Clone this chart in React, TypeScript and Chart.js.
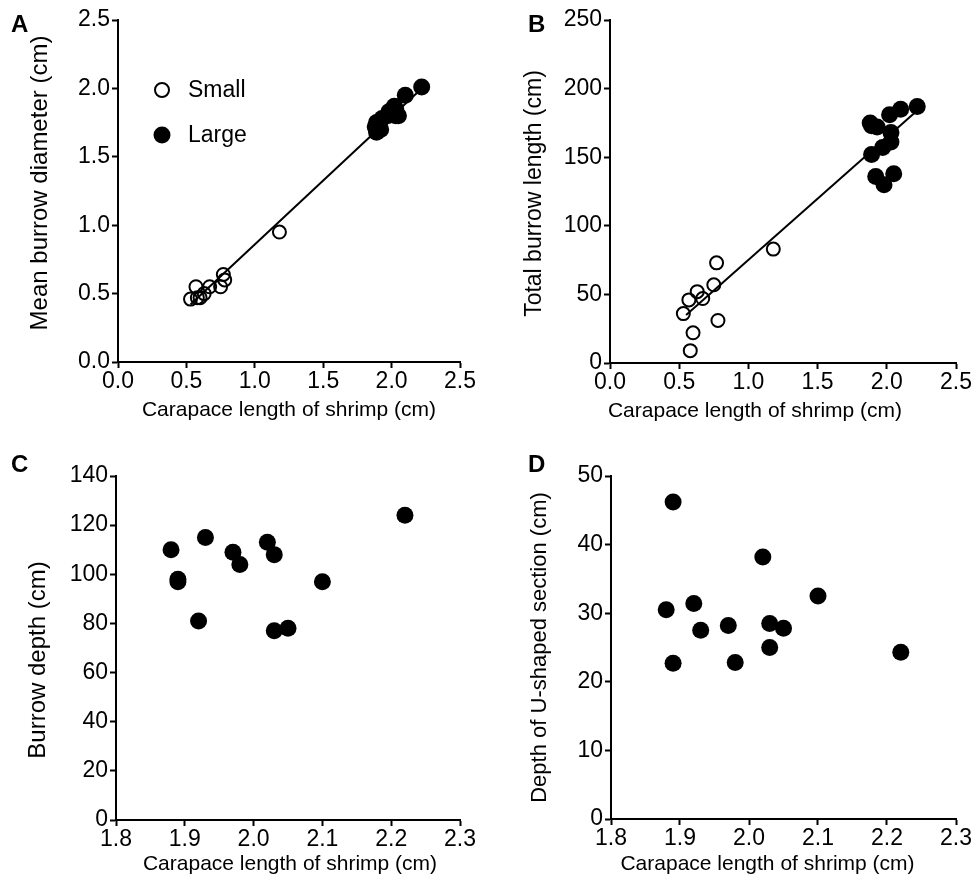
import React, { useEffect, useRef } from 'react';
import { Chart, registerables } from 'chart.js';

Chart.register(...registerables);

const FONT = "'Liberation Sans', Arial, Helvetica, sans-serif";

// ---- Data ----
const legendLabels = ['Small', 'Large'];

const smallCarapace = [0.53, 0.57, 0.58, 0.6, 0.63, 0.67, 0.75, 0.77, 0.78, 1.18];
const smallDiameter = [0.46, 0.55, 0.47, 0.47, 0.5, 0.55, 0.55, 0.64, 0.6, 0.95];
const smallLength = [36, 46, 9, 22, 52, 47, 57, 73, 31, 83];

const largeCarapace = [1.88, 1.89, 1.89, 1.92, 1.93, 1.97, 1.98, 2.02, 2.03, 2.03, 2.05, 2.1, 2.22];
const largeDiameter = [1.72, 1.68, 1.75, 1.7, 1.78, 1.8, 1.83, 1.87, 1.8, 1.85, 1.8, 1.95, 2.01];
const largeLength = [175, 152, 173, 136, 172, 157, 130, 181, 168, 161, 138, 185, 187];
const largeDepth = [110, 97, 98, 81, 115, 109, 104, 113, 108, 77, 78, 97, 124];
const largeUDepth = [30.5, 46.2, 22.7, 31.4, 27.5, 28.2, 22.8, 38.2, 28.5, 25.0, 27.8, 32.5, 24.3];

const fitA_x = [0.53, 2.22];
const fitA_y = [0.42, 2.0];
const fitB_x = [0.55, 2.22];
const fitB_y = [35, 184];

const xTitle = 'Carapace length of shrimp (cm)';
const yTitles = ['Mean burrow diameter (cm)', 'Total burrow length (cm)', 'Burrow depth (cm)', 'Depth of U-shaped section (cm)'];

const pts = (xs: number[], ys: number[]) => xs.map((x, i) => ({ x, y: ys[i] }));

const openStyle = {
  pointRadius: 6.5,
  pointBorderWidth: 2,
  pointBorderColor: '#000',
  pointBackgroundColor: 'rgba(0,0,0,0)',
  showLine: false,
  clip: false as any,
  order: 1,
};
const filledStyle = {
  pointRadius: 8.5,
  pointBorderWidth: 0,
  pointBorderColor: '#000',
  pointBackgroundColor: '#000',
  showLine: false,
  clip: false as any,
  order: 0,
};
const lineStyle = {
  showLine: true,
  borderColor: '#000',
  borderWidth: 2,
  pointRadius: 0,
  clip: false as any,
  order: 2,
};

type Geo = {
  yW: number;
  xH: number;
  padTop: number;
  padRight: number;
  xSize: number;
  xDx: number;
  xOff: number;
  ySize: number;
  yX: number;
  yDy: number;
  yTitle: string;
};

function makeScales(g: Geo, xr: [number, number, number], yr: [number, number, number], yDecimals: number) {
  const tickFont = { family: FONT, size: 23 };
  const grid = {
    display: true,
    drawOnChartArea: false,
    drawTicks: true,
    tickLength: 6,
    tickWidth: 2,
    tickColor: '#000',
  };
  return {
    x: {
      type: 'linear',
      min: xr[0],
      max: xr[1],
      ticks: {
        stepSize: xr[2],
        autoSkip: false,
        maxRotation: 0,
        color: '#000',
        font: tickFont,
        padding: 0,
        callback: (v: any) => Number(v).toFixed(1),
      },
      grid,
      border: { display: true, color: '#000', width: 2 },
      title: { display: false, text: xTitle },
      afterFit: (s: any) => {
        s.height = g.xH;
      },
    },
    y: {
      type: 'linear',
      min: yr[0],
      max: yr[1],
      ticks: {
        stepSize: yr[2],
        autoSkip: false,
        color: '#000',
        font: tickFont,
        padding: 2,
        callback: (v: any) => Number(v).toFixed(yDecimals),
      },
      grid,
      border: { display: true, color: '#000', width: 2 },
      title: { display: false, text: g.yTitle },
      afterFit: (s: any) => {
        s.width = g.yW;
      },
    },
  };
}

// Axis titles drawn on the canvas, positioned relative to the chart area
function titlePlugin(g: Geo) {
  return {
    id: 'axisTitles',
    afterDraw(chart: any) {
      const { ctx, chartArea } = chart;
      ctx.save();
      ctx.fillStyle = '#000';
      ctx.textAlign = 'center';
      ctx.textBaseline = 'middle';
      ctx.font = `${g.xSize}px ${FONT}`;
      ctx.fillText(xTitle, (chartArea.left + chartArea.right) / 2 + g.xDx, chartArea.bottom + g.xOff);
      ctx.translate(g.yX, (chartArea.top + chartArea.bottom) / 2 + g.yDy);
      ctx.rotate(-Math.PI / 2);
      ctx.font = `${g.ySize}px ${FONT}`;
      ctx.fillText(g.yTitle, 0, 0);
      ctx.restore();
    },
  };
}

const legendPlugin = {
  id: 'sizeLegend',
  afterDatasetsDraw(chart: any) {
    const { ctx, chartArea } = chart;
    const cx = chartArea.left + 44;
    const rows = [chartArea.top + 70, chartArea.top + 115];
    ctx.save();
    rows.forEach((y, i) => {
      const ds = chart.data.datasets[i];
      ctx.beginPath();
      ctx.arc(cx, y, i === 0 ? 7 : 8.5, 0, Math.PI * 2);
      if (i === 0) {
        ctx.lineWidth = 2;
        ctx.strokeStyle = ds.pointBorderColor;
        ctx.stroke();
      } else {
        ctx.fillStyle = ds.pointBackgroundColor;
        ctx.fill();
      }
      ctx.fillStyle = '#000';
      ctx.font = `23px ${FONT}`;
      ctx.textBaseline = 'middle';
      ctx.textAlign = 'left';
      ctx.fillText(legendLabels[i], cx + 26, y + 1);
    });
    ctx.restore();
  },
};

function baseOptions(g: Geo, scales: any) {
  return {
    responsive: false,
    animation: false,
    events: [],
    layout: { padding: { top: g.padTop, right: g.padRight, left: 0, bottom: 0 } },
    plugins: { legend: { display: false }, tooltip: { enabled: false } },
    scales,
  };
}

const geoA: Geo = { yW: 118, xH: 78, padTop: 20, padRight: 27, xSize: 21, xDx: 0, xOff: 48, ySize: 24, yX: 40, yDy: -8, yTitle: yTitles[0] };
const geoB: Geo = { yW: 123, xH: 77, padTop: 20, padRight: 19, xSize: 21, xDx: -28, xOff: 48, ySize: 23, yX: 48, yDy: 2, yTitle: yTitles[1] };
const geoC: Geo = { yW: 116, xH: 65, padTop: 36, padRight: 27, xSize: 21, xDx: 2, xOff: 44, ySize: 24, yX: 38, yDy: 12, yTitle: yTitles[2] };
const geoD: Geo = { yW: 124, xH: 66, padTop: 36, padRight: 19, xSize: 21, xDx: -16, xOff: 45, ySize: 22, yX: 53, yDy: 0, yTitle: yTitles[3] };

function configA(): any {
  return {
    type: 'scatter',
    data: {
      datasets: [
        { label: legendLabels[0], data: pts(smallCarapace, smallDiameter), ...openStyle },
        { label: legendLabels[1], data: pts(largeCarapace, largeDiameter), ...filledStyle },
        { label: 'fit', data: pts(fitA_x, fitA_y), ...lineStyle },
      ],
    },
    options: baseOptions(geoA, makeScales(geoA, [0, 2.5, 0.5], [0, 2.5, 0.5], 1)),
    plugins: [legendPlugin, titlePlugin(geoA)],
  };
}

function configB(): any {
  return {
    type: 'scatter',
    data: {
      datasets: [
        { label: legendLabels[0], data: pts(smallCarapace, smallLength), ...openStyle },
        { label: legendLabels[1], data: pts(largeCarapace, largeLength), ...filledStyle },
        { label: 'fit', data: pts(fitB_x, fitB_y), ...lineStyle },
      ],
    },
    options: baseOptions(geoB, makeScales(geoB, [0, 2.5, 0.5], [0, 250, 50], 0)),
    plugins: [titlePlugin(geoB)],
  };
}

function configC(): any {
  return {
    type: 'scatter',
    data: {
      datasets: [{ label: legendLabels[1], data: pts(largeCarapace, largeDepth), ...filledStyle }],
    },
    options: baseOptions(geoC, makeScales(geoC, [1.8, 2.3, 0.1], [0, 140, 20], 0)),
    plugins: [titlePlugin(geoC)],
  };
}

function configD(): any {
  return {
    type: 'scatter',
    data: {
      datasets: [{ label: legendLabels[1], data: pts(largeCarapace, largeUDepth), ...filledStyle }],
    },
    options: baseOptions(geoD, makeScales(geoD, [1.8, 2.3, 0.1], [0, 50, 10], 0)),
    plugins: [titlePlugin(geoD)],
  };
}

function Panel(props: {
  left: number;
  top: number;
  width: number;
  height: number;
  make: () => any;
  letter: string;
  letterLeft: number;
}) {
  const ref = useRef<HTMLCanvasElement>(null);
  useEffect(() => {
    const chart = new Chart(ref.current as HTMLCanvasElement, props.make());
    return () => chart.destroy();
  }, []);
  return (
    <div style={{ position: 'absolute', left: props.left, top: props.top, width: props.width, height: props.height }}>
      <canvas ref={ref} width={props.width} height={props.height} style={{ display: 'block' }} />
      <div
        style={{
          position: 'absolute',
          left: props.letterLeft,
          top: 12,
          fontFamily: FONT,
          fontWeight: 'bold',
          fontSize: 24,
          lineHeight: 1,
          color: '#000',
        }}
      >
        {props.letter}
      </div>
    </div>
  );
}

export default function App() {
  return (
    <div style={{ position: 'absolute', left: 0, top: 0, width: 975, height: 885, background: '#fff' }}>
      <Panel left={0} top={0} width={487} height={440} make={configA} letter="A" letterLeft={11} />
      <Panel left={487} top={0} width={488} height={440} make={configB} letter="B" letterLeft={41} />
      <Panel left={0} top={440} width={487} height={445} make={configC} letter="C" letterLeft={11} />
      <Panel left={487} top={440} width={488} height={445} make={configD} letter="D" letterLeft={41} />
    </div>
  );
}
